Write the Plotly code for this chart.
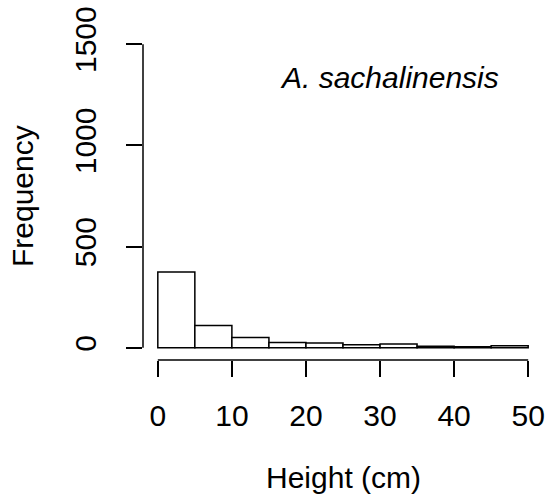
import plotly.graph_objects as go

bin_starts = [0, 5, 10, 15, 20, 25, 30, 35, 40, 45]
bin_width = 5
counts = [375, 110, 51, 26, 24, 15, 19, 8, 6, 10]
x_ticks = [0, 10, 20, 30, 40, 50]
y_ticks = [0, 500, 1000, 1500]
species = "A. sachalinensis"

FONT = "Liberation Sans, Arial, Helvetica, sans-serif"
FS = 30

centers = [s + bin_width / 2 for s in bin_starts]

fig = go.Figure()
fig.add_trace(go.Bar(
    x=centers, y=counts, width=[bin_width] * len(counts),
    marker=dict(color="white", line=dict(color="black", width=1.5)),
    hoverinfo="skip",
))

fig.update_layout(
    width=551, height=503,
    margin=dict(l=143, r=6, t=31, b=143),
    paper_bgcolor="white", plot_bgcolor="white",
    showlegend=False,
    font=dict(family=FONT, size=FS, color="black"),
    xaxis=dict(range=[-2, 52], tickvals=x_ticks, ticktext=[str(v) for v in x_ticks],
               ticks="outside", ticklen=16, tickwidth=1.5, tickcolor="black",
               showline=False, showgrid=False, zeroline=False,
               ticklabelstandoff=13, tickfont=dict(size=FS)),
    yaxis=dict(range=[-60, 1560], tickvals=y_ticks, ticktext=[str(v) for v in y_ticks],
               ticks="outside", ticklen=16, tickwidth=1.5, tickcolor="black",
               showline=False, showgrid=False, zeroline=False, tickangle=-90,
               ticklabelstandoff=18, tickfont=dict(size=FS)),
)

# R-style axis lines spanning only first to last tick
fig.add_shape(type="line", xref="x", yref="paper", x0=x_ticks[0], x1=x_ticks[-1], y0=0, y1=0,
              line=dict(color="black", width=1.5))
fig.add_shape(type="line", xref="paper", yref="y", x0=0, x1=0, y0=y_ticks[0], y1=y_ticks[-1],
              line=dict(color="black", width=1.5))

fig.add_annotation(text="Height (cm)", xref="paper", yref="paper", x=0.5, y=0,
                   xanchor="center", yanchor="middle", yshift=-117, showarrow=False,
                   font=dict(size=FS))
fig.add_annotation(text="Frequency", xref="paper", yref="paper", x=0, y=0.5,
                   xanchor="center", yanchor="middle", xshift=-121, textangle=-90,
                   showarrow=False, font=dict(size=FS))
fig.add_annotation(text="<i>" + species + "</i>", xref="x", yref="y", x=31.3, y=1335,
                   xanchor="center", yanchor="middle", showarrow=False, font=dict(size=FS))

fig.write_html("out.html")
